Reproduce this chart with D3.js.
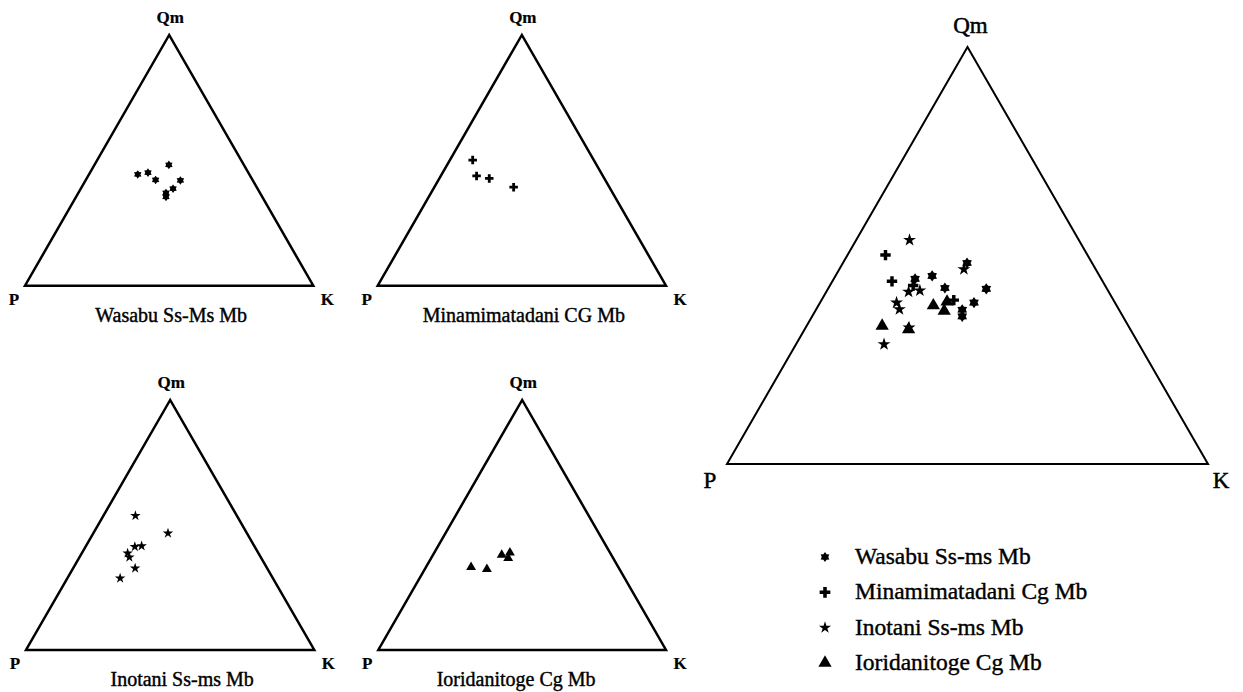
<!DOCTYPE html>
<html><head><meta charset="utf-8">
<script src="https://cdn.jsdelivr.net/npm/d3@7"></script>
<style>
body{margin:0;background:#fff}
svg{display:block}
text{font-family:"Liberation Serif","Times New Roman",serif;fill:#000}
</style>
</head><body><svg id="c" width="1243" height="692"></svg>
<script>
// Compositions as [Qm, P, K] percentages
const wasabu = [[44.4,38.7,16.9],[45.1,34.8,20.1],[42.2,33.6,24.2],[48.2,26.0,25.8],[42.0,25.1,32.9],[38.7,29.3,32.0],[37.0,32.6,30.4],[35.4,33.4,31.2]];
const minamimatadani = [[50.1,42.0,7.9],[43.8,43.8,12.4],[42.8,39.9,17.3],[39.3,33.2,27.5]];
const inotani = [[53.7,35.2,11.1],[46.7,27.4,25.9],[41.3,41.6,17.1],[41.6,39.1,19.3],[38.7,45.4,15.9],[37.1,45.6,17.3],[32.7,45.8,21.5],[28.7,53.0,18.3]];
const ioridanitoge = [[33.1,51.2,15.7],[32.3,46.1,21.6],[38.0,38.1,23.9],[38.9,34.8,26.3],[36.7,36.5,26.8]];
const legendNames = ["Wasabu Ss-ms Mb","Minamimatadani Cg Mb","Inotani Ss-ms Mb","Ioridanitoge Cg Mb"];
const panelTitles = ["Wasabu Ss-Ms Mb","Minamimatadani CG Mb","Inotani Ss-ms Mb","Ioridanitoge Cg Mb"];
const vertexLabels = ["Qm","P","K"];

const allSeries = [wasabu, minamimatadani, inotani, ioridanitoge];

const symbolAsterisk = {
  draw(ctx, size) {
    const r = Math.sqrt(size / 2.2), ri = r * 0.64;
    for (let i = 0; i < 12; i++) {
      const a = i * Math.PI / 6 - Math.PI / 2;
      const rr = i % 2 ? ri : r;
      const x = rr * Math.cos(a), y = rr * Math.sin(a);
      if (i) ctx.lineTo(x, y); else ctx.moveTo(x, y);
    }
    ctx.closePath();
  }
};
const symbolTypes = [symbolAsterisk, d3.symbolCross, d3.symbolStar, d3.symbolTriangle];

// layout
const panels = [
  {x0:25, x1:313.3, yb:285.7, ya:35, series:[0], title:0, big:false},
  {x0:377.7, x1:666, yb:285.7, ya:35, series:[1], title:1, big:false},
  {x0:26, x1:314.3, yb:650, ya:400, series:[2], title:2, big:false, tdx:10},
  {x0:378.3, x1:666, yb:650, ya:400, series:[3], title:3, big:false, tdx:-8},
  {x0:727, x1:1208, yb:464, ya:47, series:[0,1,2,3], title:null, big:true}
];
const smallSizes = [40, 40, 34, 42];
const bigSizes = [68, 60, 52, 76];
const legendSizes = [56, 64, 46, 76];

const svg = d3.select("#c");

panels.forEach(pn => {
  const g = svg.append("g");
  const xs = d3.scaleLinear().domain([0, 100]).range([pn.x0, pn.x1]);
  const ys = d3.scaleLinear().domain([0, 100]).range([pn.yb, pn.ya]);
  const px = d => xs(d[2] + d[0] / 2);
  const py = d => ys(d[0]);
  const verts = [[100,0,0],[0,100,0],[0,0,100]];
  g.append("path")
    .attr("d", d3.line().x(px).y(py)(verts) + "Z")
    .attr("fill", "none").attr("stroke", "#000")
    .attr("stroke-width", pn.big ? 2 : 2.5)
    .attr("stroke-linejoin", "miter");

  const fsV = pn.big ? 23 : 17;
  const fw = pn.big ? "normal" : "bold";
  const addV = (t, x, y) => g.append("text").text(t).attr("x", x).attr("y", y)
    .attr("text-anchor", "middle").attr("font-size", fsV).attr("font-weight", fw)
    .attr("stroke", "#000").attr("stroke-width", pn.big ? 0.5 : 0.2);
  addV(vertexLabels[0], px(verts[0]) + (pn.big ? 3 : 1), py(verts[0]) - (pn.big ? 14 : 12));
  addV(vertexLabels[1], px(verts[1]) - (pn.big ? 17 : 11), py(verts[1]) + (pn.big ? 24 : 19));
  addV(vertexLabels[2], px(verts[2]) + (pn.big ? 13 : 14), py(verts[2]) + (pn.big ? 24 : 19));

  if (pn.title !== null) {
    g.append("text").text(panelTitles[pn.title])
      .attr("x", (pn.x0 + pn.x1) / 2 + 2 + (pn.tdx || 0)).attr("y", pn.yb + 36)
      .attr("text-anchor", "middle").attr("font-size", 20)
      .attr("stroke", "#000").attr("stroke-width", 0.4);
  }

  pn.series.forEach(si => {
    const sym = d3.symbol().type(symbolTypes[si]).size(pn.big ? bigSizes[si] : smallSizes[si]);
    g.append("g").selectAll("path").data(allSeries[si]).join("path")
      .attr("transform", d => `translate(${px(d)},${py(d)})`)
      .attr("d", sym).attr("fill", "#000");
  });
});

// legend
const lg = svg.append("g");
const ly = d3.scalePoint().domain(legendNames).range([557, 663]);
legendNames.forEach((name, i) => {
  lg.append("path")
    .attr("transform", `translate(825,${ly(name)})`)
    .attr("d", d3.symbol().type(symbolTypes[i]).size(legendSizes[i])).attr("fill", "#000");
  lg.append("text").text(name).attr("x", 855).attr("y", ly(name) + 7)
    .attr("font-size", 23.5).attr("stroke", "#000").attr("stroke-width", 0.4);
});
</script>
</body></html>
